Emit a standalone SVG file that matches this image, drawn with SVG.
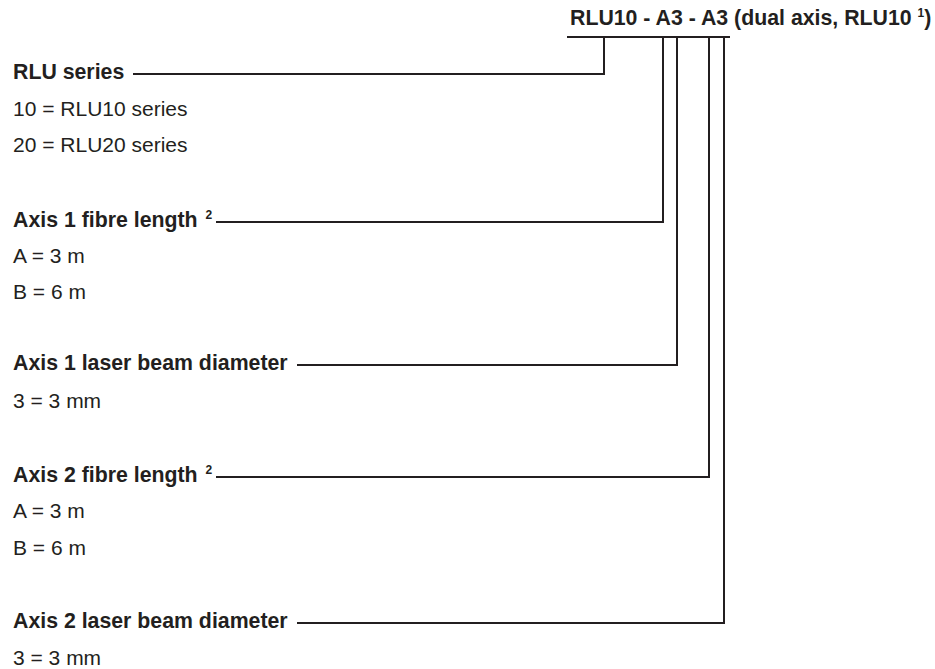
<svg xmlns="http://www.w3.org/2000/svg" width="935" height="669" viewBox="0 0 935 669">
<style>
text{font-family:"Liberation Sans",Arial,sans-serif;font-size:21px;fill:#231f20}
.b{font-weight:bold;font-size:21.3px}
.sup{font-size:12px}
.c{fill:none;stroke:#231f20;stroke-width:2;stroke-linejoin:miter;stroke-linecap:butt}
</style>
<rect width="935" height="669" fill="#fff"/>
<g id="code">
<text class="b" x="570" y="25">RLU10 - A3 - A3 (dual axis, RLU10 <tspan class="sup" dy="-8">1</tspan><tspan dy="8">)</tspan></text>
</g>
<g id="connectors">
<line class="c" x1="567" y1="37" x2="730" y2="37"/>
<polyline class="c" points="133,74 604,74 604,37"/>
<polyline class="c" points="216,222 663,222 663,37"/>
<polyline class="c" points="297,365 677,365 677,37"/>
<polyline class="c" points="216,477 709,477 709,37"/>
<polyline class="c" points="297,623 724,623 724,37"/>
</g>
<g id="rlu-series">
<text class="b" x="13" y="79">RLU series</text>
<text x="13" y="116">10 = RLU10 series</text>
<text x="13" y="152">20 = RLU20 series</text>
</g>
<g id="axis1-fibre">
<text class="b" x="13" y="227">Axis 1 fibre length <tspan class="sup" dx="2" dy="-8">2</tspan></text>
<text x="13" y="263">A = 3 m</text>
<text x="13" y="299">B = 6 m</text>
</g>
<g id="axis1-laser">
<text class="b" x="13" y="370">Axis 1 laser beam diameter</text>
<text x="13" y="408">3 = 3 mm</text>
</g>
<g id="axis2-fibre">
<text class="b" x="13" y="482">Axis 2 fibre length <tspan class="sup" dx="2" dy="-8">2</tspan></text>
<text x="13" y="518">A = 3 m</text>
<text x="13" y="555">B = 6 m</text>
</g>
<g id="axis2-laser">
<text class="b" x="13" y="628">Axis 2 laser beam diameter</text>
<text x="13" y="665">3 = 3 mm</text>
</g>
</svg>
